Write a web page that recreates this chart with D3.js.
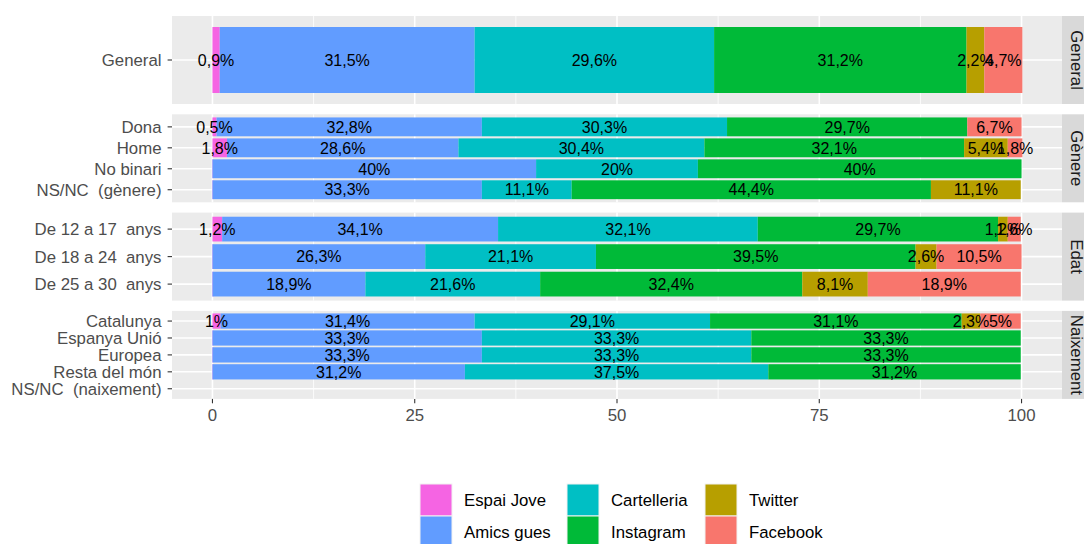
<!DOCTYPE html>
<html>
<head>
<meta charset="utf-8">
<script src="https://cdn.jsdelivr.net/npm/d3@7"></script>
<style>
  body { margin: 0; background: #ffffff; }
  text { font-family: "Liberation Sans", Arial, sans-serif; white-space: pre; }
</style>
</head>
<body>
<svg id="chart"></svg>
<script>
// series (stack order left to right) and their colours
const sources = ["Espai Jove", "Amics gues", "Cartelleria", "Instagram", "Twitter", "Facebook"];
const colors = ["#F564E3", "#619CFF", "#00BFC4", "#00BA38", "#B79F00", "#F8766D"];

// facets and the rows inside each one (top to bottom)
const panels = ["General", "Gènere", "Edat", "Naixement"];
const rowsGeneral = ["General"];
const rowsGenere = ["Dona", "Home", "No binari", "NS/NC  (gènere)"];
const rowsEdat = ["De 12 a 17  anys", "De 18 a 24  anys", "De 25 a 30  anys"];
const rowsNaixement = ["Catalunya", "Espanya Unió", "Europea", "Resta del món", "NS/NC  (naixement)"];

// percentages per series, one entry per row in the order above (null = no bar)
const espaiJove   = [0.9, 0.5, 1.8, 0, 0, 1.2, 0, 0, 1, 0, 0, 0, null];
const amicsGues   = [31.5, 32.8, 28.6, 40, 33.3, 34.1, 26.3, 18.9, 31.4, 33.3, 33.3, 31.2, null];
const cartelleria = [29.6, 30.3, 30.4, 20, 11.1, 32.1, 21.1, 21.6, 29.1, 33.3, 33.3, 37.5, null];
const instagram   = [31.2, 29.7, 32.1, 40, 44.4, 29.7, 39.5, 32.4, 31.1, 33.3, 33.3, 31.2, null];
const twitter     = [2.2, null, 5.4, null, 11.1, 1.2, 2.6, 8.1, 2.3, null, null, null, null];
const facebook    = [4.7, 6.7, 1.8, null, null, 1.6, 10.5, 18.9, 5, null, null, null, null];

const xTicks = [0, 25, 50, 75, 100];

const width = 1084, height = 544;
const svg = d3.select("#chart").attr("width", width).attr("height", height);

const series = [espaiJove, amicsGues, cartelleria, instagram, twitter, facebook];
const panelRows = [rowsGeneral, rowsGenere, rowsEdat, rowsNaixement];

// layout
const left = 172, right = 1062;
const panelTop = 16, panelH = 88, panelGap = 10.3;
const axisColor = "#4D4D4D", fs = 16.8;

const x = d3.scaleLinear().domain([-5, 105]).range([left, right]);
const fmt = v => String(v).replace(".", ",") + "%";

let rowIndex = 0;
panelRows.forEach((rows, p) => {
  const top = panelTop + p * (panelH + panelGap);
  const y = d3.scalePoint().domain(rows).range([top, top + panelH]).padding(0.6);
  const barH = y.step() * 0.9;

  const g = svg.append("g");

  // panel background
  g.append("rect").attr("x", left).attr("y", top)
    .attr("width", right - left).attr("height", panelH).attr("fill", "#EBEBEB");

  // minor + major vertical grid
  g.selectAll(".minor").data([12.5, 37.5, 62.5, 87.5]).join("line")
    .attr("x1", d => x(d)).attr("x2", d => x(d))
    .attr("y1", top).attr("y2", top + panelH)
    .attr("stroke", "#fff").attr("stroke-width", 0.8);
  g.selectAll(".major").data(xTicks).join("line")
    .attr("x1", d => x(d)).attr("x2", d => x(d))
    .attr("y1", top).attr("y2", top + panelH)
    .attr("stroke", "#fff").attr("stroke-width", 1.6);
  g.selectAll(".hmajor").data(rows).join("line")
    .attr("x1", left).attr("x2", right)
    .attr("y1", d => y(d)).attr("y2", d => y(d))
    .attr("stroke", "#fff").attr("stroke-width", 1.6);

  // stacked segments per row
  rows.forEach((r, k) => {
    const idx = rowIndex + k;
    let cum = 0;
    const segs = [];
    series.forEach((s, j) => {
      const v = s[idx];
      if (v === null) return;
      segs.push({ v: v, start: cum, end: cum + v, color: colors[j] });
      cum += v;
    });

    g.selectAll(null).data(segs).join("rect")
      .attr("x", d => x(d.start))
      .attr("width", d => Math.max(x(d.end) - x(d.start), 1))
      .attr("y", y(r) - barH / 2).attr("height", barH)
      .attr("fill", d => d.color)
      .attr("opacity", d => d.v === 0 ? 0.8 : 1);

    g.selectAll(null).data(segs.filter(d => d.v > 0)).join("text")
      .attr("x", d => x((d.start + d.end) / 2))
      .attr("y", y(r)).attr("dy", "0.36em")
      .attr("text-anchor", "middle")
      .attr("font-size", 16).attr("fill", "#000")
      .text(d => fmt(d.v));
  });

  // y axis ticks and labels
  g.selectAll(".yt").data(rows).join("line")
    .attr("x1", left - 4.4).attr("x2", left)
    .attr("y1", d => y(d)).attr("y2", d => y(d))
    .attr("stroke", "#333").attr("stroke-width", 1.1);
  g.selectAll(".yl").data(rows).join("text")
    .attr("x", left - 10.5).attr("y", d => y(d)).attr("dy", "0.37em")
    .attr("text-anchor", "end").attr("font-size", fs).attr("fill", axisColor)
    .text(d => d);

  // facet strip on the right
  g.append("rect").attr("x", right).attr("y", top)
    .attr("width", 40).attr("height", panelH).attr("fill", "#D9D9D9");
  g.append("text")
    .attr("transform", "translate(1071," + (top + panelH / 2) + ") rotate(90)")
    .attr("text-anchor", "middle").attr("font-size", fs).attr("fill", "#1A1A1A")
    .text(panels[p]);

  rowIndex += rows.length;
});

// x axis at the bottom
const bottom = panelTop + 4 * panelH + 3 * panelGap;
const xAxis = svg.append("g");
xAxis.selectAll("line").data(xTicks).join("line")
  .attr("x1", d => x(d)).attr("x2", d => x(d))
  .attr("y1", bottom).attr("y2", bottom + 4.4)
  .attr("stroke", "#333").attr("stroke-width", 1.1);
xAxis.selectAll("text").data(xTicks).join("text")
  .attr("x", d => x(d)).attr("y", bottom + 22.5)
  .attr("text-anchor", "middle").attr("font-size", fs).attr("fill", axisColor)
  .text(d => d);

// legend, 3 columns x 2 rows, filled by column
const legCols = [420, 567, 705];
const legTop = 484, keySize = 32;
const legend = svg.append("g");
sources.forEach((s, i) => {
  const cx = legCols[Math.floor(i / 2)];
  const cy = legTop + (i % 2) * keySize;
  legend.append("rect")
    .attr("x", cx).attr("y", cy).attr("width", keySize).attr("height", keySize)
    .attr("fill", colors[i]).attr("stroke", "#F2F2F2").attr("stroke-width", 1);
  legend.append("text")
    .attr("x", cx + 44).attr("y", cy + keySize / 2).attr("dy", "0.36em")
    .attr("font-size", fs).attr("fill", "#000")
    .text(s);
});
</script>
</body>
</html>
